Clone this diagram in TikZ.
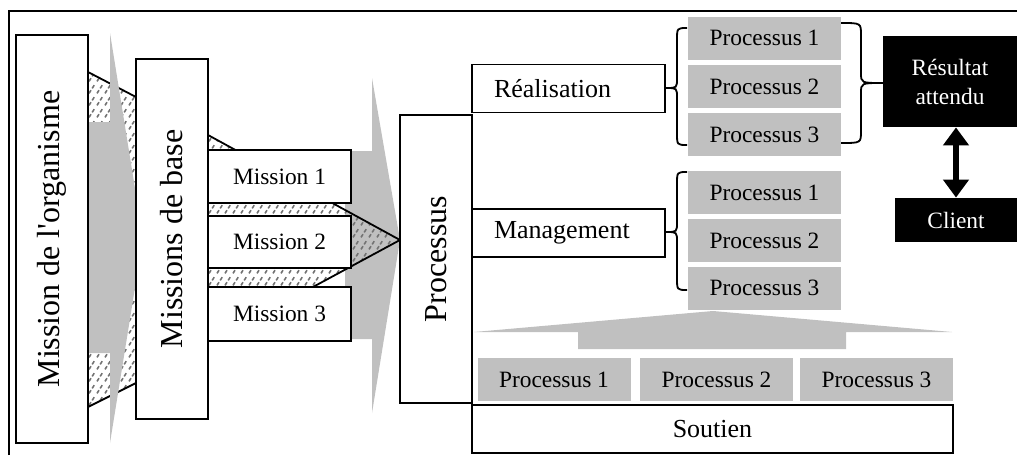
\documentclass[tikz,border=0pt]{standalone}
\usepackage{fontspec}
\setmainfont{Liberation Serif}
\usetikzlibrary{arrows.meta,patterns}

\definecolor{procgray}{RGB}{192,192,192}

% short slanted dashes for the hatched funnels
\pgfdeclarepatternformonly{dashhatch}{\pgfqpoint{-1pt}{-1pt}}{\pgfqpoint{5pt}{7pt}}{\pgfqpoint{4pt}{6pt}}{%
  \pgfsetlinewidth{0.8pt}
  \pgfpathmoveto{\pgfqpoint{0.5pt}{0.8pt}}
  \pgfpathlineto{\pgfqpoint{1.5pt}{2.4pt}}
  \pgfpathmoveto{\pgfqpoint{2.1pt}{3.3pt}}
  \pgfpathlineto{\pgfqpoint{3.1pt}{4.9pt}}
  \pgfusepath{stroke}}

\tikzset{
  box/.style={draw, fill=white, line width=0.9pt, inner sep=0pt},
  vbox/.style={box, rotate=90, minimum height=36pt, font=\fontsize{16}{19}\selectfont},
  mbox/.style={box, minimum width=71.5pt, font=\fontsize{11.7}{14}\selectfont},
  lbox/.style={box, text width=74.5pt, inner xsep=11pt, align=left, minimum height=24pt, font=\fontsize{13}{15}\selectfont},
  pbox/.style={fill=procgray, inner sep=0pt, minimum width=76.5pt, minimum height=21.5pt, font=\fontsize{11.7}{14}\selectfont},
  bbox/.style={fill=black, text=white, inner sep=0pt, align=center, font=\fontsize{11.7}{14.5}\selectfont},
  hatch/.style={draw, line width=0.9pt, pattern=dashhatch, pattern color=black!55},
  bigarrow/.style={fill=procgray},
  brace/.style={draw, line width=0.9pt},
}

\begin{document}
\begin{tikzpicture}[x=0.5pt,y=-0.5pt]
\useasboundingbox (0,0) rectangle (1017,455);

% frame
\draw[line width=1pt] (9,455) -- (9,11) -- (1017,11);

% funnels and arrows behind the boxes
\path[hatch] (88,72) -- (136,97) -- (136,383) -- (88,407) -- cycle;
\path[bigarrow] (88,122) -- (110,122) -- (110,33) -- (143,238) -- (110,443) -- (110,353) -- (88,353) -- cycle;
\path[bigarrow] (345,151) -- (372,151) -- (372,78) -- (400,240) -- (372,413) -- (372,339) -- (345,339) -- cycle;
\path[hatch] (208,135) -- (400,240) -- (300,294) -- (208,294) -- cycle;

% left part
\node[vbox, minimum width=204pt] (org) at (52,239) {Mission de l\textquotesingle organisme};
\node[vbox, minimum width=180pt] (base) at (172,239) {Missions de base};
\node[mbox, minimum height=26.5pt] (m1) at (279.5,176.5) {Mission 1};
\node[mbox, minimum height=26pt] (m2) at (279.5,242) {Mission 2};
\node[mbox, minimum height=27pt] (m3) at (279.5,314) {Mission 3};
\node[vbox, minimum width=144pt] (proc) at (436,259) {Processus};

% process families
\node[lbox] (real) at (568.5,88.5) {Réalisation};
\node[lbox] (mgmt) at (568.5,233) {Management};
\node[box, minimum width=240.5pt, minimum height=24pt, font=\fontsize{13}{15}\selectfont] (sout) at (712.5,429) {Soutien};

\node[pbox] (r1) at (764.5,38) {Processus 1};
\node[pbox] (r2) at (764.5,86.5) {Processus 2};
\node[pbox] (r3) at (764.5,134.5) {Processus 3};

\node[pbox] (g1) at (764.5,192.5) {Processus 1};
\node[pbox] (g2) at (764.5,240.5) {Processus 2};
\node[pbox] (g3) at (764.5,288) {Processus 3};

\node[pbox] (s1) at (554,379.5) {Processus 1};
\node[pbox] (s2) at (716.5,379.5) {Processus 2};
\node[pbox] (s3) at (876.5,379.5) {Processus 3};

% support feeds up
\path[bigarrow] (474,332) -- (713,311) -- (952,332) -- (846,332) -- (846,349) -- (578,349) -- (578,332) -- cycle;

% braces
\path[brace] (687,28) .. controls (677,28) .. (677,40) -- (677,78) .. controls (677,88) .. (666,88)
  .. controls (677,88) .. (677,98) -- (677,133) .. controls (677,145) .. (687,145);
\path[brace] (687,172) .. controls (677,172) .. (677,184) -- (677,222) .. controls (677,232) .. (666,232)
  .. controls (677,232) .. (677,242) -- (677,278) .. controls (677,290) .. (687,290);
\path[brace] (841,23) .. controls (861,23) .. (861,35) -- (861,73) .. controls (861,83) .. (883,83)
  .. controls (861,83) .. (861,93) -- (861,131) .. controls (861,143) .. (841,143);

% result and client
\node[bbox, minimum width=67pt, minimum height=45.5pt] (res) at (950,81.5) {Résultat\\attendu};
\node[bbox, minimum width=61pt, minimum height=22pt] (cli) at (956,220) {Client};
\draw[line width=3pt, {Triangle[width=12.5pt,length=9pt]}-{Triangle[width=12.5pt,length=9pt]}] (cli.north) -- (cli.north |- res.south);

\end{tikzpicture}
\end{document}
